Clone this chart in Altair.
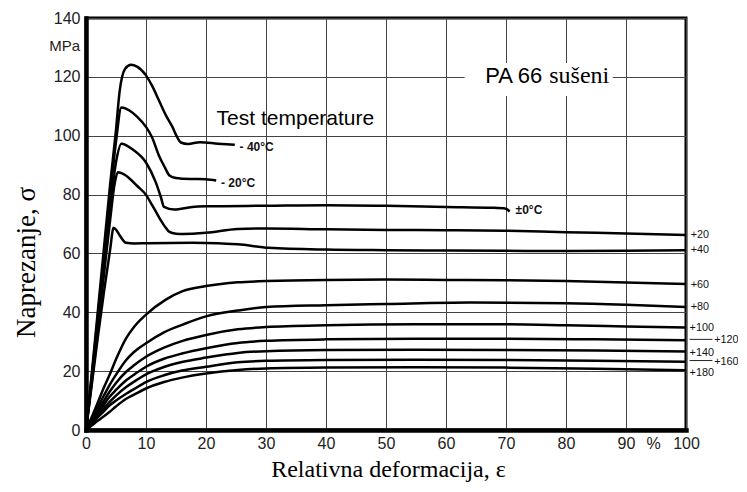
import altair as alt
import pandas as pd

# ---- curve data (strain %, stress MPa) ----
eps_m40 = [0, 1, 2, 3, 4, 5, 5.6, 6.5, 7.5, 8.5, 10, 11, 12.2, 13.3, 14.4, 15.2, 15.8, 17, 19, 22, 24.8]
sig_m40 = [0, 20, 41, 62, 83, 102, 115, 122.7, 124.1, 123.5, 120.5, 117, 111.8, 107, 103, 99.5, 97.7, 97.2, 97.8, 97.3, 96.9]

eps_m20 = [0, 1, 2, 3, 4, 5, 5.9, 7.3, 8.5, 10, 11, 12.2, 13.2, 13.9, 15, 16.1, 18, 20, 21.7]
sig_m20 = [0, 19, 39, 59, 79, 98, 109.6, 108.5, 106.5, 103, 99.5, 93, 89, 86.5, 85.6, 85.4, 85.3, 85.2, 84.8]

eps_0 = [0, 1, 2, 3, 4, 5, 5.9, 7.8, 10, 11.6, 12.5, 13, 14.7, 17.7, 20, 30, 40, 50, 60, 68, 70, 70.6]
sig_0 = [0, 18, 37, 56, 75, 91, 97.3, 95.3, 90.9, 84.3, 79, 75.8, 74.9, 75.8, 76, 76.2, 76.4, 76.2, 75.8, 75.5, 75.2, 74.2]

eps_20 = [0, 1, 2, 3, 4, 4.8, 5.3, 6, 7.3, 8.5, 10, 11, 12.2, 13.2, 13.9, 15, 16.1, 20, 25.3, 30, 40, 50, 60, 70, 80, 90, 100]
sig_20 = [0, 17, 35, 53, 71, 84, 87.6, 87.2, 85.4, 83, 79.9, 76.5, 72.2, 69, 67.3, 66.7, 66.6, 67, 68.3, 68.5, 68.2, 68, 67.9, 67.7, 67.2, 66.8, 66.3]

eps_40 = [0, 1, 2, 3, 4, 4.6, 5.1, 5.6, 6.7, 8, 10.4, 17.7, 22, 25.3, 30.5, 40, 50, 60, 70, 80, 90, 100]
sig_40 = [0, 16, 32, 47, 61, 68.7, 67.8, 66.2, 63.6, 63.4, 63.5, 63.6, 63.5, 63.1, 61.9, 61.3, 61.1, 61, 60.9, 60.8, 60.9, 61.1]

eps_60 = [0, 1, 2, 3, 3.9, 5, 6.7, 8, 10, 13.3, 16.1, 20, 25.3, 30, 40, 50, 60, 70, 80, 90, 100]
sig_60 = [0, 4.6, 9.5, 14.5, 18.6, 24, 31.2, 35, 39.2, 44.3, 47.2, 48.9, 50.2, 50.6, 51, 51.1, 51, 50.9, 50.6, 50.1, 49.6]

eps_80 = [0, 1, 2, 3, 3.9, 5, 6.7, 8, 10, 13, 16.1, 20, 25.3, 30, 40, 50, 64, 80, 90, 100]
sig_80 = [0, 3.8, 7.8, 11.8, 15.2, 18.8, 23.8, 26.5, 29.5, 33.2, 35.8, 38.6, 40.6, 41.8, 42.4, 42.8, 43.3, 43.1, 42.6, 41.8]

eps_100 = [0, 1, 2, 3, 3.9, 5, 6.7, 8, 10, 13, 16.1, 20, 25.3, 30, 40, 55, 70, 80, 90, 100]
sig_100 = [0, 3.3, 6.6, 10, 12.9, 16, 19.8, 22, 24.9, 28, 30.3, 32.3, 34.2, 35, 35.6, 35.9, 35.9, 35.6, 35.2, 34.8]

eps_120 = [0, 1, 2, 3, 3.9, 5, 6.7, 8, 10, 13, 16, 20, 25.3, 30, 40, 55, 70, 85, 100]
sig_120 = [0, 2.9, 5.8, 8.7, 11.2, 13.6, 16.9, 18.8, 21.5, 24.2, 26, 27.8, 29.6, 30.3, 30.8, 31, 31, 30.8, 30.5]

eps_140 = [0, 1, 2, 3, 3.9, 5, 6.7, 8, 10, 13, 16, 20, 25.3, 30, 40, 55, 70, 85, 100]
sig_140 = [0, 2.5, 5, 7.4, 9.5, 11.7, 14.6, 16.4, 18.9, 21.4, 23.1, 24.6, 26.2, 26.8, 27.2, 27.3, 27.2, 27, 26.7]

eps_160 = [0, 1, 2, 3, 3.9, 5, 6.7, 8, 10, 13, 16, 20, 25.3, 30, 40, 55, 70, 85, 100]
sig_160 = [0, 2.2, 4.4, 6.4, 8.3, 10, 12.3, 13.9, 16.3, 18.6, 20.2, 21.5, 23, 23.5, 23.8, 23.9, 23.8, 23.5, 23.2]

eps_180 = [0, 1, 2, 3, 3.9, 5, 6.7, 8, 10, 13, 16, 20, 25.3, 30, 40, 55, 70, 85, 100]
sig_180 = [0, 1.6, 3.2, 4.7, 6.1, 8, 10.6, 12, 14.1, 16.3, 17.8, 19.2, 20.4, 20.9, 21.2, 21.3, 21.2, 20.8, 20.3]

curve_names = ["-40", "-20", "0", "20", "40", "60", "80", "100", "120", "140", "160", "180"]
curve_eps = [eps_m40, eps_m20, eps_0, eps_20, eps_40, eps_60, eps_80, eps_100, eps_120, eps_140, eps_160, eps_180]
curve_sig = [sig_m40, sig_m20, sig_0, sig_20, sig_40, sig_60, sig_80, sig_100, sig_120, sig_140, sig_160, sig_180]

# ---- labels ----
temp_labels = ["- 40°C", "- 20°C", "±0°C"]
temp_lab_x = [25.6, 22.5, 71.6]
temp_lab_y = [96.3, 84.0, 74.6]

right_labels = ["+20", "+40", "+60", "+80", "+100", "+140", "+180"]
right_lab_x = [100.8, 100.8, 100.8, 100.8, 100.6, 100.6, 100.6]
right_lab_y = [66.1, 61.1, 49.4, 41.9, 34.8, 26.3, 19.4]

right2_labels = ["+120", "+160"]
right2_lab_x = [104.7, 104.7]
right2_lab_y = [30.6, 23.0]

leader_x1 = [100.6, 100.6]
leader_x2 = [104.4, 104.4]
leader_y = [30.8, 23.6]

x_ticks = list(range(0, 101, 10))
y_ticks = list(range(0, 141, 20))

rows = []
for name, xs, ys in zip(curve_names, curve_eps, curve_sig):
    for i, (a, b) in enumerate(zip(xs, ys)):
        rows.append({"temp": name, "eps": a, "sig": b, "ord": i})
df = pd.DataFrame(rows)

SANS = "Liberation Sans, Arial, sans-serif"
SERIF = "Liberation Serif, Times New Roman, serif"

xscale = alt.Scale(domain=[0, 100], nice=False)
yscale = alt.Scale(domain=[0, 140], nice=False)

lines = alt.Chart(df).mark_line(color="black", strokeWidth=2.5, interpolate="monotone").encode(
    x=alt.X("eps:Q", scale=xscale, axis=alt.Axis(
        values=x_ticks, title="Relativna deformacija, ε", titleFont=SERIF,
        titleFontSize=24, titleFontWeight="normal", titleColor="black",
        titleX=302, titleY=46, titleBaseline="alphabetic", titleAlign="center",
        labelFont=SANS, labelFontSize=16, labelColor="#222", labelPadding=5,
        labelFlush=False,
        ticks=False, domainColor="black", domainWidth=4.5, domainCap="square",
        grid=True, gridColor="#444", gridWidth=1)),
    y=alt.Y("sig:Q", scale=yscale, axis=alt.Axis(
        values=y_ticks, title="Naprezanje, σ", titleFont=SERIF,
        titleFontSize=27, titleFontWeight="normal", titleColor="black",
        titleX=-60, titleY=244, titleAngle=270, titleBaseline="middle", titleAlign="center",
        labelFont=SANS, labelFontSize=16, labelColor="#222", labelPadding=6,
        labelFlush=False,
        ticks=False, domainColor="black", domainWidth=4.5, domainCap="square",
        grid=True, gridColor="#444", gridWidth=1)),
    detail="temp:N",
    order="ord:Q",
)

box_df = pd.DataFrame({"x1": [63.1], "x2": [87.8], "y1": [113.5], "y2": [124.7]})
box = alt.Chart(box_df).mark_rect(fill="white").encode(
    x=alt.X("x1:Q", scale=xscale), x2="x2:Q", y=alt.Y("y1:Q", scale=yscale), y2="y2:Q")

pa_df = pd.DataFrame({"t": ["PA 66"], "x": [71.3], "y": [120.2]})
pa = alt.Chart(pa_df).mark_text(font=SANS, fontSize=22, color="black",
                                align="center", baseline="middle").encode(
    x=alt.X("x:Q", scale=xscale), y=alt.Y("y:Q", scale=yscale), text="t:N")

su_df = pd.DataFrame({"t": ["sušeni"], "x": [82.2], "y": [120.2]})
su = alt.Chart(su_df).mark_text(font=SERIF, fontSize=24, color="black",
                                align="center", baseline="middle").encode(
    x=alt.X("x:Q", scale=xscale), y=alt.Y("y:Q", scale=yscale), text="t:N")

tt_df = pd.DataFrame({"t": ["Test temperature"], "x": [34.9], "y": [105.6]})
tt = alt.Chart(tt_df).mark_text(font=SANS, fontSize=21, color="black",
                                align="center", baseline="middle").encode(
    x=alt.X("x:Q", scale=xscale), y=alt.Y("y:Q", scale=yscale), text="t:N")

tl_df = pd.DataFrame({"t": temp_labels, "x": temp_lab_x, "y": temp_lab_y})
tl = alt.Chart(tl_df).mark_text(font=SANS, fontSize=12, fontWeight="bold", color="#111",
                                align="left", baseline="middle").encode(
    x=alt.X("x:Q", scale=xscale), y=alt.Y("y:Q", scale=yscale), text="t:N")

rl_df = pd.DataFrame({"t": right_labels + right2_labels,
                      "x": right_lab_x + right2_lab_x,
                      "y": right_lab_y + right2_lab_y})
rl = alt.Chart(rl_df).mark_text(font=SANS, fontSize=10.8, color="#111",
                                align="left", baseline="middle").encode(
    x=alt.X("x:Q", scale=xscale), y=alt.Y("y:Q", scale=yscale), text="t:N")

ld_df = pd.DataFrame({"x1": leader_x1, "x2": leader_x2, "y": leader_y})
ld = alt.Chart(ld_df).mark_rule(color="#222", strokeWidth=1).encode(
    x=alt.X("x1:Q", scale=xscale), x2="x2:Q", y=alt.Y("y:Q", scale=yscale))

mpa_df = pd.DataFrame({"t": ["MPa"], "x": [0], "y": [130.5]})
mpa = alt.Chart(mpa_df).mark_text(font=SANS, fontSize=15, color="#222",
                                  align="right", baseline="middle", dx=-6).encode(
    x=alt.X("x:Q", scale=xscale), y=alt.Y("y:Q", scale=yscale), text="t:N")

pct_df = pd.DataFrame({"t": ["%"], "x": [94.6], "y": [0]})
pct = alt.Chart(pct_df).mark_text(font=SANS, fontSize=16, color="#222",
                                  align="center", baseline="middle", dy=14).encode(
    x=alt.X("x:Q", scale=xscale), y=alt.Y("y:Q", scale=yscale), text="t:N")

chart = alt.layer(lines, box, pa, su, tt, tl, rl, ld, mpa, pct).properties(
    width=600, height=412,
    autosize=alt.AutoSizeParams(type="none"),
    padding={"left": 78, "top": 10, "right": 52, "bottom": 52},
    background="white",
).configure_view(stroke="black", strokeWidth=3)

chart.save("out.html", embed_options={"renderer": "svg", "actions": False})
